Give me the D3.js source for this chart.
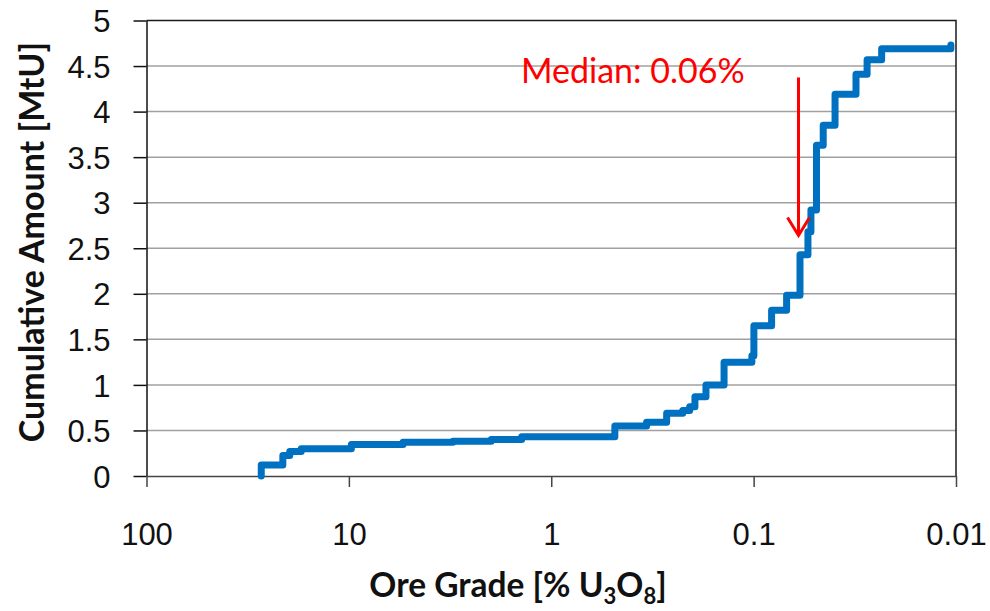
<!DOCTYPE html>
<html>
<head>
<meta charset="utf-8">
<script src="https://cdn.jsdelivr.net/npm/d3@7"></script>
<style>
  body { margin: 0; background: #fff; }
  svg { display: block; font-family: Lato, "Open Sans", sans-serif; }
</style>
</head>
<body>
<svg width="990" height="611"></svg>
<script>
// ore grade [% U3O8] at which each step starts
const grades = [27.1, 27.1, 21.2, 19.6, 17.2, 9.72, 5.40, 3.06, 1.98, 1.40,
                0.485, 0.338, 0.269, 0.224, 0.207, 0.195, 0.172, 0.140, 0.102, 0.0997,
                0.0815, 0.0687, 0.0590, 0.0539, 0.0521, 0.0489, 0.0453, 0.0396, 0.0312,
                0.0275, 0.0233, 0.0106, 0.0106];
// cumulative amount [MtU] after each step
const cumAmount = [0, 0.12, 0.225, 0.27, 0.30, 0.345, 0.37, 0.382, 0.40, 0.43,
                   0.55, 0.59, 0.69, 0.72, 0.76, 0.87, 1.00, 1.25, 1.32, 1.65,
                   1.82, 1.985, 2.43, 2.68, 2.92, 3.63, 3.85, 4.19, 4.41,
                   4.57, 4.69, 4.69, 4.73];

const xTicks = [100, 10, 1, 0.1, 0.01];
const yTicks = [0, 0.5, 1, 1.5, 2, 2.5, 3, 3.5, 4, 4.5, 5];

const medianGrade = 0.06;
const medianLabel = "Median: 0.06%";
const arrowFrom = 4.375, arrowTo = 2.64;

function drawGraph() {
    let svg = d3.select("svg");
    svg.selectAll('*').remove();

    const attr_area = {
        left: 146.5,
        right: 956,
        top: 20.5,
        bottom: 476
    };

    const scX = d3.scaleLog()
        .domain([100, 0.01])
        .range([attr_area.left, attr_area.right]);
    const scY = d3.scaleLinear()
        .domain([0, 5])
        .range([attr_area.bottom, attr_area.top]);

    // horizontal gridlines
    svg.append("g")
       .selectAll("line")
       .data(yTicks.filter(d => d > 0 && d < 5))
       .enter()
       .append("line")
       .attr("x1", attr_area.left)
       .attr("x2", attr_area.right)
       .attr("y1", d => scY(d))
       .attr("y2", d => scY(d))
       .style("stroke", "#a0a0a0")
       .style("stroke-width", 1.5);

    // top and right border
    svg.append("path")
       .attr("d", `M${attr_area.left},${scY(5)}H${attr_area.right}V${attr_area.bottom}`)
       .style("fill", "none")
       .style("stroke", "#1a1a1a")
       .style("stroke-width", 1.5);

    createAxis(svg, scX, scY, attr_area);
    createChart(svg, scX, scY);
    createMedian(svg, scX, scY);
    createTitles(svg);
}

function createAxis(svg, scX, scY, attr_area) {
    const axisY = d3.axisLeft(scY)
        .tickValues(yTicks)
        .tickFormat(d => String(d))
        .tickSize(13)
        .tickSizeOuter(0)
        .tickPadding(23);

    const gy = svg.append("g")
       .attr("transform", `translate(${attr_area.left}, 0)`)
       .call(axisY);
    gy.select(".domain").style("stroke", "#111").style("stroke-width", 1.5);
    gy.selectAll(".tick line").style("stroke", "#111").style("stroke-width", 1.5);
    gy.selectAll("text")
      .attr("dy", "0.36em")
      .style("font-size", "31px")
      .style("fill", "#111");

    const axisX = d3.axisBottom(scX)
        .tickValues(xTicks)
        .tickFormat(d => String(d))
        .tickSize(11)
        .tickSizeOuter(0);

    const gx = svg.append("g")
       .attr("transform", `translate(0, ${attr_area.bottom})`)
       .call(axisX);
    gx.select(".domain").style("stroke", "#444").style("stroke-width", 1.5);
    gx.selectAll(".tick line").style("stroke", "#444").style("stroke-width", 1.5);
    gx.selectAll("text")
      .attr("y", 57.5)
      .attr("dy", "0.36em")
      .style("font-size", "31px")
      .style("fill", "#111");
}

function createChart(svg, scX, scY) {
    const pts = grades.map((g, i) => [g, cumAmount[i]]);
    const line = d3.line()
        .x(d => scX(d[0]))
        .y(d => scY(d[1]))
        .curve(d3.curveStepAfter);

    svg.append("path")
       .datum(pts)
       .attr("d", line)
       .style("fill", "none")
       .style("stroke", "#0070c0")
       .style("stroke-width", 7)
       .style("stroke-linejoin", "round")
       .style("stroke-linecap", "round");
}

function createMedian(svg, scX, scY) {
    const x = scX(medianGrade);
    const y1 = scY(arrowFrom), y2 = scY(arrowTo);
    svg.append("line")
       .attr("x1", x).attr("x2", x)
       .attr("y1", y1).attr("y2", y2 - 1)
       .style("stroke", "#ff0000")
       .style("stroke-width", 3);
    svg.append("path")
       .attr("d", `M${x - 11},${y2 - 18}L${x},${y2}L${x + 11},${y2 - 18}`)
       .style("fill", "none")
       .style("stroke", "#ff0000")
       .style("stroke-width", 3);

    svg.append("text")
       .attr("x", 521)
       .attr("y", 83)
       .style("font-size", "34px")
       .style("fill", "#ff0000")
       .text(medianLabel);
}

function createTitles(svg) {
    const t = svg.append("text")
       .attr("x", 518)
       .attr("y", 597)
       .attr("text-anchor", "middle")
       .style("font-size", "33.5px")
       .style("font-weight", "bold")
       .style("fill", "#111");
    t.append("tspan").text("Ore Grade [% U");
    t.append("tspan").attr("dy", 7).style("font-size", "22px").text("3");
    t.append("tspan").attr("dy", -7).text("O");
    t.append("tspan").attr("dy", 7).style("font-size", "22px").text("8");
    t.append("tspan").attr("dy", -7).text("]");

    svg.append("text")
       .attr("transform", "translate(32, 242) rotate(-90)")
       .attr("text-anchor", "middle")
       .attr("dy", "0.36em")
       .style("font-size", "34px")
       .style("font-weight", "bold")
       .style("fill", "#111")
       .text("Cumulative Amount [MtU]");
}

drawGraph();
</script>
</body>
</html>
